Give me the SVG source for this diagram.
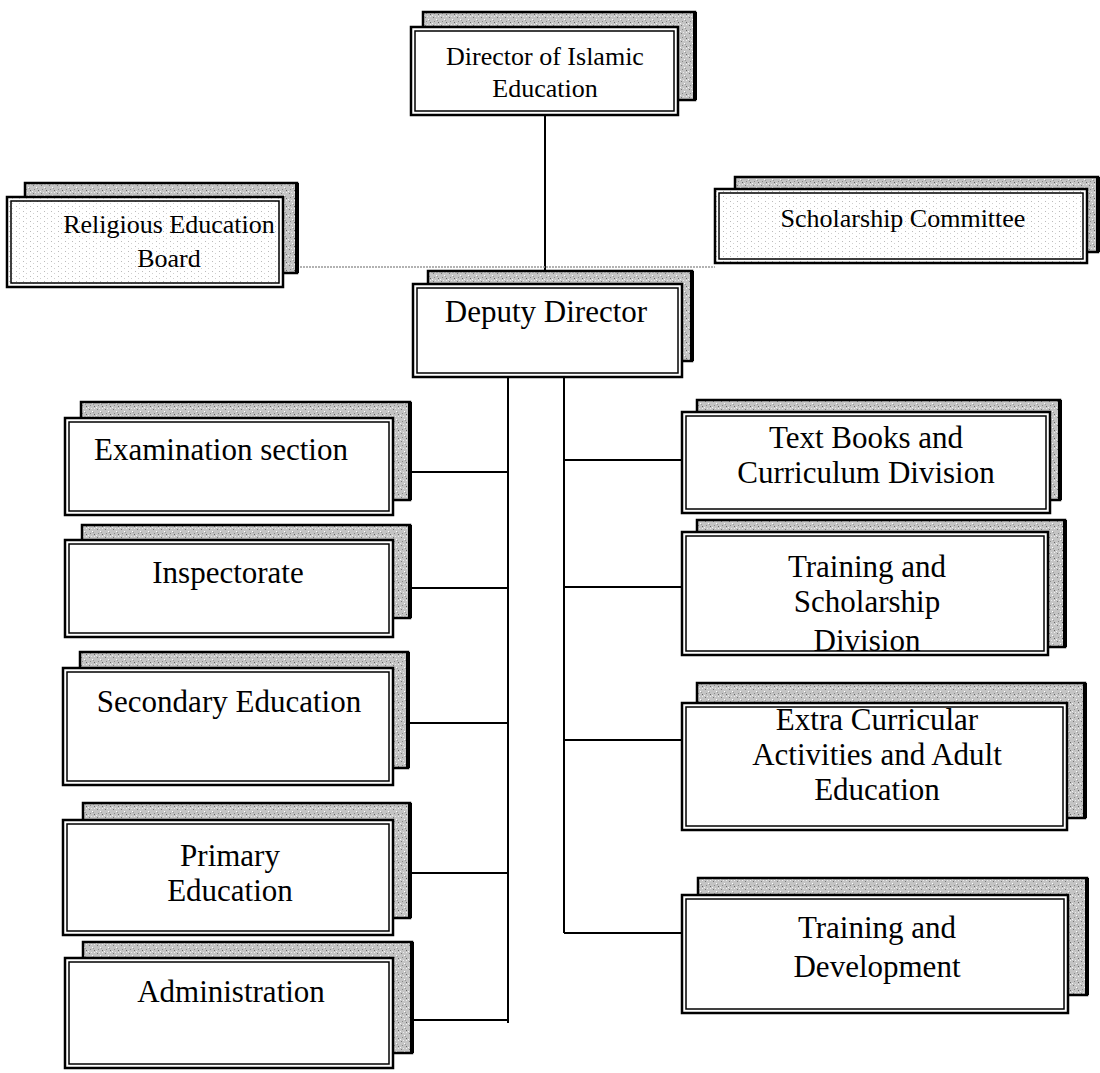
<svg xmlns="http://www.w3.org/2000/svg" width="1100" height="1073" viewBox="0 0 1100 1073">
<style>
.sh{fill:url(#speck);stroke:#000;stroke-width:2.5}
.she{stroke:#000;stroke-width:4;fill:none}
.fr{fill:#fff;stroke:#000;stroke-width:2.5}
.frl{fill:url(#lspeck);stroke:#000;stroke-width:2.5}
.in{fill:none;stroke:#000;stroke-width:1.5}
.t{font-family:"Liberation Serif","Times New Roman",serif;fill:#000;text-anchor:middle}
.s{font-size:26px}
.l{font-size:31px}
.c{stroke:#000;stroke-width:2;fill:none}
.d{stroke:#999;stroke-width:1.5;stroke-dasharray:2 1;fill:none}
</style>
<defs>
<pattern id="speck" width="8" height="8" patternUnits="userSpaceOnUse"><rect width="8" height="8" fill="#c4c4c4"/><rect x="1" y="1" width="1" height="1" fill="#777"/><rect x="4" y="3" width="1" height="1" fill="#fff"/><rect x="2" y="5" width="1" height="1" fill="#888"/><rect x="6" y="0" width="1" height="1" fill="#eee"/><rect x="6" y="6" width="1" height="1" fill="#666"/><rect x="0" y="7" width="1" height="1" fill="#f4f4f4"/><rect x="5" y="4" width="1" height="1" fill="#999"/><rect x="3" y="0" width="1" height="1" fill="#e8e8e8"/></pattern>
<pattern id="lspeck" width="7" height="5" patternUnits="userSpaceOnUse"><rect width="7" height="5" fill="#fff"/><rect x="2" y="1" width="1" height="1" fill="#bbb"/><rect x="5" y="3" width="1" height="1" fill="#d0d0d0"/></pattern>
<clipPath id="tsclip"><rect x="686" y="536" width="358" height="115"/></clipPath>
</defs>

<g id="connectors">
<line class="c" x1="545" y1="115" x2="545" y2="284"/>
<line class="d" x1="297" y1="267" x2="715" y2="267"/>
<line class="c" x1="508" y1="377" x2="508" y2="1023"/>
<line class="c" x1="564" y1="377" x2="564" y2="933"/>
<line class="c" x1="410" y1="472" x2="508" y2="472"/>
<line class="c" x1="410" y1="588" x2="508" y2="588"/>
<line class="c" x1="408" y1="723" x2="508" y2="723"/>
<line class="c" x1="410" y1="873" x2="508" y2="873"/>
<line class="c" x1="412" y1="1020" x2="508" y2="1020"/>
<line class="c" x1="564" y1="460" x2="682" y2="460"/>
<line class="c" x1="564" y1="587" x2="682" y2="587"/>
<line class="c" x1="564" y1="740" x2="682" y2="740"/>
<line class="c" x1="564" y1="933" x2="682" y2="933"/>
</g>

<g id="director">
<rect class="sh" x="423" y="12" width="272" height="88"/><line class="she" x1="695" y1="12" x2="695" y2="100"/>
<rect class="fr" x="411" y="27" width="267" height="88"/><rect class="in" x="415" y="31" width="259" height="80"/>
<text class="t s" x="545" y="65">Director of Islamic</text>
<text class="t s" x="545" y="97">Education</text>
</g>

<g id="religious">
<rect class="sh" x="25" y="183" width="272" height="90"/><line class="she" x1="297" y1="183" x2="297" y2="273"/>
<rect class="frl" x="7" y="197" width="276" height="90"/><rect class="in" x="11" y="201" width="268" height="82"/>
<text class="t s" x="169" y="233">Religious Education</text>
<text class="t s" x="169" y="267">Board</text>
</g>

<g id="scholarship">
<rect class="sh" x="735" y="177" width="363" height="75"/><line class="she" x1="1098" y1="177" x2="1098" y2="252"/>
<rect class="frl" x="715" y="189" width="372" height="74"/><rect class="in" x="719" y="193" width="364" height="66"/>
<text class="t s" x="903" y="227">Scholarship Committee</text>
</g>

<g id="deputy">
<rect class="sh" x="428" y="271" width="264" height="90"/><line class="she" x1="692" y1="271" x2="692" y2="361"/>
<rect class="fr" x="413" y="284" width="269" height="93"/><rect class="in" x="417" y="288" width="261" height="85"/>
<text class="t l" x="546" y="322">Deputy Director</text>
</g>

<g id="examination">
<rect class="sh" x="81" y="402" width="329" height="98"/><line class="she" x1="410" y1="402" x2="410" y2="500"/>
<rect class="fr" x="65" y="418" width="328" height="97"/><rect class="in" x="69" y="422" width="320" height="89"/>
<text class="t l" x="221" y="460">Examination section</text>
</g>

<g id="inspectorate">
<rect class="sh" x="82" y="525" width="328" height="93"/><line class="she" x1="410" y1="525" x2="410" y2="618"/>
<rect class="fr" x="65" y="540" width="328" height="97"/><rect class="in" x="69" y="544" width="320" height="89"/>
<text class="t l" x="228" y="583">Inspectorate</text>
</g>

<g id="secondary">
<rect class="sh" x="80" y="652" width="328" height="116"/><line class="she" x1="408" y1="652" x2="408" y2="768"/>
<rect class="fr" x="63" y="668" width="330" height="117"/><rect class="in" x="67" y="672" width="322" height="109"/>
<text class="t l" x="229" y="712">Secondary Education</text>
</g>

<g id="primary">
<rect class="sh" x="83" y="803" width="327" height="115"/><line class="she" x1="410" y1="803" x2="410" y2="918"/>
<rect class="fr" x="63" y="820" width="330" height="115"/><rect class="in" x="67" y="824" width="322" height="107"/>
<text class="t l" x="230" y="866">Primary</text>
<text class="t l" x="230" y="901">Education</text>
</g>

<g id="administration">
<rect class="sh" x="83" y="942" width="329" height="111"/><line class="she" x1="412" y1="942" x2="412" y2="1053"/>
<rect class="fr" x="65" y="958" width="328" height="110"/><rect class="in" x="69" y="962" width="320" height="102"/>
<text class="t l" x="231" y="1002">Administration</text>
</g>

<g id="textbooks">
<rect class="sh" x="697" y="400" width="363" height="100"/><line class="she" x1="1060" y1="400" x2="1060" y2="500"/>
<rect class="fr" x="682" y="412" width="368" height="101"/><rect class="in" x="686" y="416" width="360" height="93"/>
<text class="t l" x="866" y="448">Text Books and</text>
<text class="t l" x="866" y="483">Curriculum Division</text>
</g>

<g id="trainingscholarship">
<rect class="sh" x="697" y="520" width="368" height="127"/><line class="she" x1="1065" y1="520" x2="1065" y2="647"/>
<rect class="fr" x="682" y="532" width="366" height="123"/><rect class="in" x="686" y="536" width="358" height="115"/>
<g clip-path="url(#tsclip)">
<text class="t l" x="867" y="577">Training and</text>
<text class="t l" x="867" y="612">Scholarship</text>
<text class="t l" x="867" y="651">Division</text>
</g>
</g>

<g id="extracurricular">
<rect class="sh" x="697" y="683" width="388" height="135"/><line class="she" x1="1085" y1="683" x2="1085" y2="818"/>
<rect class="fr" x="682" y="703" width="385" height="127"/><rect class="in" x="686" y="707" width="377" height="119"/>
<text class="t l" x="877" y="730">Extra Curricular</text>
<text class="t l" x="877" y="765">Activities and Adult</text>
<text class="t l" x="877" y="800">Education</text>
</g>

<g id="trainingdevelopment">
<rect class="sh" x="698" y="878" width="389" height="117"/><line class="she" x1="1087" y1="878" x2="1087" y2="995"/>
<rect class="fr" x="682" y="895" width="386" height="118"/><rect class="in" x="686" y="899" width="378" height="110"/>
<text class="t l" x="877" y="938">Training and</text>
<text class="t l" x="877" y="977">Development</text>
</g>
</svg>
